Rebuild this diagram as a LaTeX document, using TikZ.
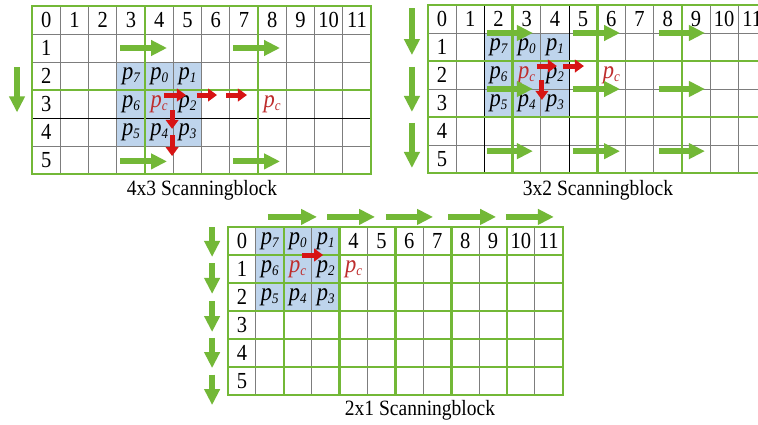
\documentclass[tikz,border=0pt]{standalone}
\usepackage{fontspec}
\setmainfont{Liberation Serif}
\usetikzlibrary{arrows.meta}
\definecolor{gr}{RGB}{115,184,55}
\definecolor{bl}{RGB}{190,212,236}
\definecolor{rd}{RGB}{215,20,20}
\definecolor{pcred}{RGB}{190,45,45}
\definecolor{thingray}{RGB}{125,125,125}
\tikzset{
 thinline/.style={draw=thingray, line width=0.9pt},
 darkline/.style={draw=black, line width=0.9pt},
 greenline/.style={draw=gr, line width=2.6pt},
 garrow/.style={draw=gr, line width=5.8pt, -{Triangle[width=15pt,length=16pt]}},
 rarrow/.style={draw=rd, line width=5pt, -{Triangle[width=12.5pt,length=9pt]}},
 num/.style={font=\fontsize{20.5}{24}\selectfont, inner sep=0pt},
 plab/.style={font=\fontsize{22.5}{24}\selectfont\itshape, inner sep=0pt},
 pcl/.style={plab, text=pcred},
 captext/.style={font=\fontsize{19.5}{24}\selectfont, inner sep=0pt},
}
\newcommand{\vs}[1]{\scalebox{1}[1.12]{#1}}
\newcommand{\pl}[1]{\vs{p\raisebox{-0.3ex}{\fontsize{13}{14}\selectfont #1}}}
\begin{document}
\begin{tikzpicture}
\useasboundingbox (0,0) rectangle (758pt,-425pt);
\fill[white] (0,0) rectangle (758pt,-425pt);
% ---------- grid 1 : 4x3 ----------
\begin{scope}[shift={(32pt,-6pt)}, x=28.25pt, y=-28pt]
 \fill[bl] (3,2) rectangle (6,5);
 \foreach \i in {1,...,11} \draw[thinline] (\i,0) -- (\i,6);
 \foreach \j in {1,...,5} \draw[thinline] (0,\j) -- (12,\j);
 \draw[darkline] (0,4) -- (12,4);
 \draw[greenline] (4,0) -- (4,6) (8,0) -- (8,6) (0,3) -- (12,3);
 \draw[greenline] (0,0) rectangle (12,6);
 \foreach \i in {0,...,11} \node[num] (a-h\i) at (\i+0.5,0.5) {\vs{\i}};
 \foreach \j in {1,...,5} \node[num] (a-v\j) at (0.5,\j+0.5) {\vs{\j}};
 \node[plab] (a-p7) at (3.5,2.5) {\pl{7}};
 \node[plab] (a-p0) at (4.5,2.5) {\pl{0}};
 \node[plab] (a-p1) at (5.5,2.5) {\pl{1}};
 \node[plab] (a-p6) at (3.5,3.5) {\pl{6}};
 \node[pcl]  (a-pc) at (4.5,3.5) {\pl{c}};
 \node[plab] (a-p2) at (5.5,3.5) {\pl{2}};
 \node[plab] (a-p5) at (3.5,4.5) {\pl{5}};
 \node[plab] (a-p4) at (4.5,4.5) {\pl{4}};
 \node[plab] (a-p3) at (5.5,4.5) {\pl{3}};
 \node[pcl]  (a-pc2) at (8.5,3.5) {\pl{c}};
 \draw[garrow] (3.12,1.5) -- (4.78,1.5);
 \draw[garrow] (7.12,1.5) -- (8.78,1.5);
 \draw[garrow] (3.12,5.55) -- (4.78,5.55);
 \draw[garrow] (7.12,5.55) -- (8.78,5.55);
 \draw[garrow] (-0.53,2.18) -- (-0.53,3.8);
 \draw[rarrow] (4.67,3.18) -- (5.45,3.18);
 \draw[rarrow] (5.84,3.18) -- (6.55,3.18);
 \draw[rarrow] (6.87,3.18) -- (7.61,3.18);
 \draw[rarrow] (4.96,3.71) -- (4.96,4.39);
 \draw[rarrow] (4.96,4.61) -- (4.96,5.36);
\end{scope}
\node[captext] (cap1) at (202pt,-190pt) {\vs{4x3 Scanningblock}};
% ---------- grid 2 : 3x2 ----------
\begin{scope}[shift={(428pt,-5pt)}, x=28.2pt, y=-28pt]
 \fill[bl] (2,1) rectangle (5,4);
 \foreach \i in {1,...,11} \draw[thinline] (\i,0) -- (\i,6);
 \foreach \j in {1,...,5} \draw[thinline] (0,\j) -- (12,\j);
 \draw[darkline] (2,0) -- (2,6) (5,0) -- (5,6);
 \draw[greenline] (3,0) -- (3,6) (6,0) -- (6,6) (9,0) -- (9,6) (0,2) -- (12,2) (0,4) -- (12,4);
 \draw[greenline] (0,0) rectangle (12,6);
 \foreach \i in {0,...,11} \node[num] (b-h\i) at (\i+0.5,0.5) {\vs{\i}};
 \foreach \j in {1,...,5} \node[num] (b-v\j) at (0.5,\j+0.5) {\vs{\j}};
 \node[plab] (b-p7) at (2.5,1.5) {\pl{7}};
 \node[plab] (b-p0) at (3.5,1.5) {\pl{0}};
 \node[plab] (b-p1) at (4.5,1.5) {\pl{1}};
 \node[plab] (b-p6) at (2.5,2.5) {\pl{6}};
 \node[pcl]  (b-pc) at (3.5,2.5) {\pl{c}};
 \node[plab] (b-p2) at (4.5,2.5) {\pl{2}};
 \node[plab] (b-p5) at (2.5,3.5) {\pl{5}};
 \node[plab] (b-p4) at (3.5,3.5) {\pl{4}};
 \node[plab] (b-p3) at (4.5,3.5) {\pl{3}};
 \node[pcl]  (b-pc2) at (6.5,2.5) {\pl{c}};
 \foreach \yy in {1.0,3.0,5.22} {
  \draw[garrow] (2.09,\yy) -- (3.72,\yy);
  \draw[garrow] (5.14,\yy) -- (6.81,\yy);
  \draw[garrow] (8.19,\yy) -- (9.82,\yy);
 }
 \draw[garrow] (-0.57,0.11) -- (-0.57,1.79);
 \draw[garrow] (-0.57,2.21) -- (-0.57,3.82);
 \draw[garrow] (-0.57,4.21) -- (-0.57,5.82);
 \draw[rarrow] (3.87,2.18) -- (4.57,2.18);
 \draw[rarrow] (4.79,2.18) -- (5.53,2.18);
 \draw[rarrow] (4.04,2.68) -- (4.04,3.39);
\end{scope}
\node[captext] (cap2) at (598pt,-190pt) {\vs{3x2 Scanningblock}};
% ---------- grid 3 : 2x1 ----------
\begin{scope}[shift={(228pt,-227pt)}, x=27.9pt, y=-28pt]
 \fill[bl] (1,0) rectangle (4,3);
 \foreach \i in {1,...,11} \draw[thinline] (\i,0) -- (\i,6);
 \draw[greenline] (2,0) -- (2,6) (4,0) -- (4,6) (6,0) -- (6,6) (8,0) -- (8,6) (10,0) -- (10,6);
 \foreach \j in {1,...,5} \draw[greenline] (0,\j) -- (12,\j);
 \draw[greenline] (0,0) rectangle (12,6);
 \node[num] (c-h0) at (0.5,0.5) {\vs{0}};
 \foreach \i in {4,...,11} \node[num] (c-h\i) at (\i+0.5,0.5) {\vs{\i}};
 \foreach \j in {1,...,5} \node[num] (c-v\j) at (0.5,\j+0.5) {\vs{\j}};
 \node[plab] (c-p7) at (1.5,0.5) {\pl{7}};
 \node[plab] (c-p0) at (2.5,0.5) {\pl{0}};
 \node[plab] (c-p1) at (3.5,0.5) {\pl{1}};
 \node[plab] (c-p6) at (1.5,1.5) {\pl{6}};
 \node[pcl]  (c-pc) at (2.5,1.5) {\pl{c}};
 \node[plab] (c-p2) at (3.5,1.5) {\pl{2}};
 \node[plab] (c-p5) at (1.5,2.5) {\pl{5}};
 \node[plab] (c-p4) at (2.5,2.5) {\pl{4}};
 \node[plab] (c-p3) at (3.5,2.5) {\pl{3}};
 \node[pcl]  (c-pc2) at (4.5,1.5) {\pl{c}};
 \draw[garrow] (1.43,-0.36) -- (3.19,-0.36);
 \draw[garrow] (3.55,-0.36) -- (5.27,-0.36);
 \draw[garrow] (5.66,-0.36) -- (7.35,-0.36);
 \draw[garrow] (7.89,-0.36) -- (9.61,-0.36);
 \draw[garrow] (9.96,-0.36) -- (11.68,-0.36);
 \draw[garrow] (-0.57,0.0) -- (-0.57,1.07);
 \draw[garrow] (-0.57,1.3) -- (-0.57,2.39);
 \draw[garrow] (-0.57,2.65) -- (-0.57,3.75);
 \draw[garrow] (-0.57,3.96) -- (-0.57,5.04);
 \draw[garrow] (-0.57,5.27) -- (-0.57,6.36);
 \draw[rarrow] (2.65,1.0) -- (3.41,1.0);
\end{scope}
\node[captext] (cap3) at (420pt,-410pt) {\vs{2x1 Scanningblock}};
\end{tikzpicture}
\end{document}
